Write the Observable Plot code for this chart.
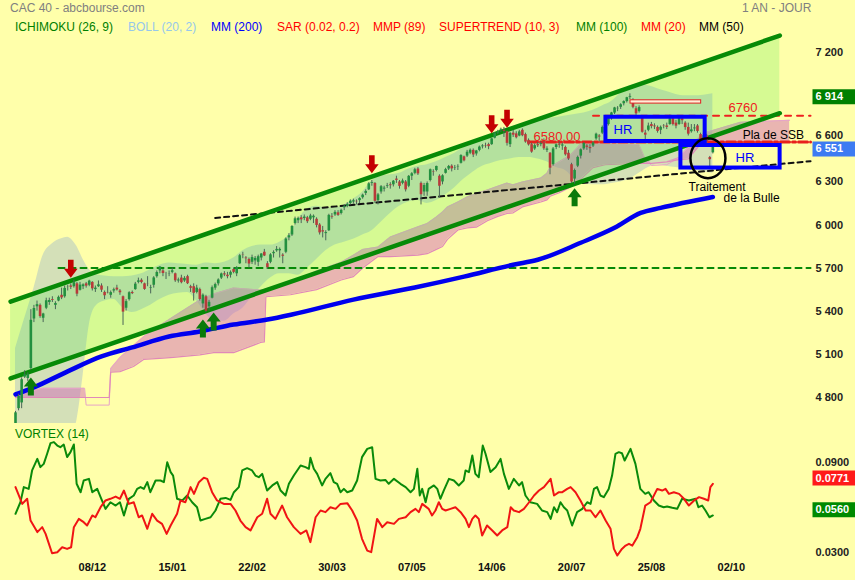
<!DOCTYPE html>
<html><head><meta charset="utf-8">
<script src="https://cdn.jsdelivr.net/npm/d3@7"></script>
<script src="https://cdn.jsdelivr.net/npm/@observablehq/plot@0.6"></script>
<style>
body{margin:0;background:#ffffaa;}
#wrap{position:relative;width:855px;height:580px;background:#ffffaa;overflow:hidden;font-family:"Liberation Sans",Arial,sans-serif;}
#wrap svg{position:absolute;left:0;}
.t{position:absolute;font-size:12px;line-height:14px;white-space:nowrap;}
</style></head><body>
<div id="wrap"></div>
<script>
// ---------- DATA ----------
// daily candles [open, high, low, close], CAC 40, 2 Nov 2020 -> 21 Sep 2021 (index 0..227)
const nov20=[[4606,4701,4590,4691],[4720,4820,4705,4805],[4760,4935,4720,4922],[4940,4985,4930,4956],[4930,4970,4910,4960],[5000,5410,4990,5336],[5345,5440,5320,5418],[5430,5470,5400,5445],[5440,5450,5350,5362],[5350,5385,5320,5380],[5420,5490,5410,5472],[5460,5490,5440,5474],[5480,5500,5460,5474],[5440,5465,5410,5453],[5470,5505,5465,5496],[5510,5560,5480,5492],[5500,5575,5490,5558],[5570,5580,5540,5571],[5575,5590,5550,5566],[5570,5615,5560,5598],[5590,5600,5500,5518]];
const dec20=[[5545,5600,5540,5581],[5570,5590,5550,5583],[5590,5600,5560,5574],[5580,5615,5570,5609],[5600,5605,5540,5555],[5550,5575,5530,5560],[5570,5610,5565,5583],[5575,5590,5530,5546],[5530,5540,5480,5507],[5530,5570,5520,5528],[5510,5540,5490,5529],[5540,5560,5525,5549],[5560,5580,5540,5547],[5540,5550,5510,5528],[5500,5505,5300,5393],[5420,5480,5400,5466],[5480,5535,5470,5528],[5530,5540,5515,5522],[5550,5600,5545,5588],[5600,5630,5590,5611],[5615,5625,5590,5599],[5590,5595,5545,5551]];
const jan21=[[5590,5640,5570,5589],[5560,5580,5520,5564],[5580,5640,5560,5631],[5640,5680,5630,5669],[5680,5710,5660,5707],[5680,5690,5640,5662],[5650,5670,5620,5650],[5660,5680,5640,5662],[5670,5700,5660,5681],[5660,5665,5600,5611],[5610,5630,5595,5617],[5630,5650,5590,5598],[5610,5640,5600,5628],[5640,5650,5585,5591],[5570,5580,5530,5559],[5570,5590,5470,5524],[5530,5580,5520,5560],[5550,5560,5470,5481],[5450,5520,5420,5511],[5500,5510,5390,5399]];
const feb21=[[5430,5475,5400,5461],[5490,5575,5485,5563],[5560,5595,5545,5585],[5590,5625,5575,5617],[5630,5665,5620,5659],[5660,5675,5640,5652],[5650,5670,5625,5640],[5650,5680,5630,5670],[5690,5700,5660,5670],[5660,5710,5640,5704],[5730,5795,5725,5786],[5790,5810,5765,5788],[5770,5780,5730,5765],[5760,5770,5700,5728],[5740,5790,5725,5773],[5750,5780,5720,5767],[5740,5790,5710,5779],[5770,5800,5750,5798],[5810,5830,5780,5784],[5730,5745,5690,5703]];
const mar21=[[5740,5800,5730,5792],[5800,5820,5770,5809],[5820,5850,5810,5830],[5820,5840,5770,5830],[5790,5800,5730,5782],[5810,5910,5800,5902],[5910,5940,5890,5925],[5930,5995,5920,5990],[6010,6055,6000,6043],[6030,6055,6010,6046],[6050,6065,6010,6036],[6045,6070,6030,6055],[6050,6060,6010,6023],[6040,6075,6030,6063],[6050,6070,6010,6061],[6040,6050,5980,5997],[6000,6010,5930,5945],[5960,5990,5910,5951],[5940,5960,5890,5947],[5960,6075,5955,6067],[6060,6080,6040,6055],[6070,6100,6060,6088],[6085,6100,6060,6067]];
const apr21=[[6080,6110,6070,6102],[6120,6140,6100,6130],[6130,6155,6120,6144],[6150,6175,6140,6166],[6160,6180,6145,6169],[6165,6175,6140,6162],[6170,6190,6150,6184],[6190,6215,6180,6208],[6220,6245,6205,6234],[6245,6295,6240,6287],[6290,6310,6270,6296],[6290,6295,6150,6165],[6170,6220,6140,6210],[6230,6275,6215,6267],[6250,6270,6230,6257],[6270,6290,6255,6275],[6280,6295,6250,6274],[6280,6310,6265,6305],[6320,6340,6290,6311],[6300,6310,6250,6269]];
const may21=[[6290,6320,6280,6307],[6300,6310,6230,6245],[6270,6345,6260,6339],[6340,6365,6310,6357],[6360,6395,6350,6385],[6390,6400,6345,6356],[6290,6300,6140,6211],[6230,6290,6200,6275],[6230,6300,6200,6289],[6310,6390,6300,6385],[6370,6385,6340,6367],[6380,6410,6370,6408],[6340,6350,6190,6270],[6300,6350,6280,6343],[6360,6395,6355,6386],[6390,6415,6380,6408],[6410,6420,6370,6391],[6395,6415,6380,6398],[6405,6420,6380,6408],[6430,6490,6425,6484],[6475,6480,6440,6447]];
const jun21=[[6480,6520,6470,6507],[6500,6530,6490,6521],[6520,6530,6470,6488],[6495,6520,6480,6516],[6520,6550,6510,6543],[6545,6560,6530,6551],[6550,6570,6535,6547],[6560,6570,6525,6546],[6560,6605,6555,6600],[6605,6645,6600,6639],[6640,6660,6630,6652],[6660,6675,6645,6667],[6660,6680,6610,6653],[6650,6655,6550,6569],[6560,6645,6540,6638],[6640,6660,6610,6626],[6635,6650,6600,6608],[6620,6660,6615,6649],[6660,6670,6615,6622],[6630,6640,6570,6578],[6590,6600,6550,6558],[6560,6570,6500,6508]];
const jul21=[[6530,6565,6520,6553],[6560,6575,6540,6552],[6560,6580,6545,6567],[6580,6600,6520,6531],[6520,6545,6505,6530],[6500,6505,6350,6396],[6420,6540,6410,6530],[6540,6565,6525,6559],[6560,6580,6535,6555],[6550,6570,6520,6558],[6540,6550,6480,6489],[6500,6520,6450,6460],[6420,6430,6290,6300],[6320,6390,6285,6380],[6410,6480,6400,6471],[6480,6530,6460,6524],[6530,6575,6520,6568],[6550,6560,6520,6541],[6540,6560,6500,6532],[6550,6580,6540,6572],[6600,6640,6590,6633],[6620,6630,6580,6613]];
const aug21=[[6640,6690,6630,6680],[6670,6700,6650,6689],[6700,6750,6690,6742],[6740,6785,6730,6781],[6780,6820,6770,6816],[6810,6825,6790,6813],[6820,6845,6805,6838],[6845,6865,6830,6860],[6860,6890,6850,6887],[6890,6914,6875,6896],[6870,6880,6810,6820],[6810,6825,6760,6775],[6790,6830,6780,6818],[6750,6760,6640,6646],[6640,6660,6580,6626],[6660,6710,6650,6690],[6700,6715,6670,6686],[6690,6705,6665,6684],[6680,6690,6640,6652],[6660,6690,6630,6681],[6690,6700,6670,6688],[6690,6710,6665,6680]];
const sep21=[[6700,6765,6695,6740],[6740,6750,6690,6700],[6710,6730,6670,6689],[6700,6750,6695,6743],[6740,6760,6700,6727],[6710,6720,6660,6679],[6680,6710,6620,6633],[6650,6700,6640,6663],[6670,6700,6650,6676],[6690,6700,6640,6652],[6630,6640,6575,6584],[6590,6635,6580,6623],[6620,6630,6560,6570],[6470,6478,6400,6455],[6503,6560,6495,6551]];

// Bollinger (20,2): [index, upper, lower]
const bollinger=[[0,5140,4520],[3,5350,4530],[6,5560,4540],[9,5790,4550],[12,5870,4550],[15,5905,4555],[17,5914,4560],[19,5880,4570],[20,5850,4640],[22,5760,4950],[24,5690,5300],[26,5655,5430],[29,5645,5470],[32,5640,5480],[35,5640,5420],[38,5645,5390],[41,5660,5410],[44,5690,5440],[47,5720,5480],[50,5735,5510],[53,5730,5525],[56,5725,5530],[59,5720,5470],[62,5735,5380],[65,5730,5330],[68,5740,5330],[71,5770,5380],[74,5820,5420],[77,5850,5500],[80,5860,5570],[83,5860,5630],[86,5880,5660],[89,5930,5660],[92,6040,5650],[95,6110,5700],[98,6130,5760],[101,6120,5820],[104,6120,5860],[107,6140,5880],[110,6180,5900],[113,6230,5930],[116,6310,5960],[119,6340,6020],[122,6350,6080],[125,6360,6130],[128,6390,6160],[131,6410,6170],[134,6420,6150],[137,6440,6170],[140,6470,6210],[143,6500,6260],[146,6540,6320],[149,6570,6370],[152,6600,6410],[155,6630,6430],[158,6660,6450],[161,6680,6460],[164,6700,6470],[167,6720,6470],[170,6740,6460],[173,6745,6440],[176,6750,6400],[179,6760,6380],[182,6770,6320],[185,6780,6290],[188,6800,6280],[191,6830,6280],[194,6860,6290],[197,6920,6300],[200,6970,6320],[203,6980,6360],[206,6970,6400],[209,6950,6420],[212,6930,6410],[215,6910,6400],[218,6900,6390],[221,6900,6380],[224,6905,6370],[227,6914,6360]];

// Ichimoku cloud (shifted 26): [index, SSA, SSB]
const kumo=[[0,4815,4798],[9,4862,4798],[22.5,4862,4798],[23,4745,4798],[30.5,4745,4798],[31,5000,4975],[34,5076,4978],[38.4,5160,5014],[41.7,5222,5063],[47,5300,5070],[51.4,5360,5077],[60,5478,5095],[64.5,5520,5111],[71,5561,5111],[79.8,5547,5181],[81,5550,5185],[81.5,5555,5500],[89.5,5597,5514],[98,5680,5550],[106,5740,5617],[110,5790,5640],[113,5830,5700],[118,5846,5780],[122,5916,5780],[131,5987,5790],[134,6010,5800],[137,6056,5830],[139,6090,5850],[140.6,6126,5900],[144,6160,5965],[147,6195,5980],[150,6220,5985],[153.6,6244,6030],[157,6270,6060],[160,6292,6080],[162,6280,6085],[165,6300,6126],[171,6327,6160],[173,6360,6175],[174,6403,6200],[177,6440,6225],[180.7,6487,6265],[184,6565,6320],[188,6570,6400],[192,6568,6420],[198,6565,6425],[203,6560,6430],[205,6460,6430],[207,6415,6430],[212,6420,6440],[216,6470,6455],[219,6540,6460],[222,6600,6540],[224,6640,6571],[236,6716,6575],[252,6730,6575]];

// MM 200: [index, value]
const mm200=[[0,4820],[6,4869],[17,4980],[28,5084],[38,5147],[50,5223],[60,5258],[71,5306],[82,5341],[90,5376],[110,5480],[130,5564],[146,5640],[162,5723],[170,5758],[184,5876],[195,5980],[203.5,6084],[210,6119],[227,6195]];

// trend channel and levels: [index, value]
const channelIdx=[-1.6,248.8], channelTop=[5466,7320], channelBottom=[4931,6779];
const level5700=[[14,5700],[258.8,5700]];
const supportLine=[[65,6049],[258.8,6445]];
const level6760=[[188,6762],[258.8,6762]];
const level6580=[[167,6578],[258.8,6578]];

// signals [index, arrow tip value]
const sellSignals=[[18,5633],[116,6361],[155,6639],[160,6677]];
const buySignals=[[5,4937],[61,5341],[64.5,5390],[182,6256]];

// annotations
const hrBoxes=[{x1:192.2,x2:224.5,y1:6582,y2:6751},{x1:216.6,x2:248.9,y1:6397,y2:6554}];
const gapBox=[{x1:200.2,x2:223.2,y1:6846,y2:6869}];
const bubble=[[225.4,6466]];
const redNotes=[{i:168.6,v:6612,t:"6580.00"},{i:232.1,v:6820,t:"6760"}];
const blueNotes=[{i:194.7,v:6660,t:"HR"},{i:234.4,v:6466,t:"HR"}];
const blackNotes=[{i:236.7,v:6626,t:"Pla de SSB"},{i:219.1,v:6265,t:"Traitement"},{i:230.5,v:6188,t:"de la Bulle"}];

// Vortex (14): [index, value]
const viPlus=[[0,.0556],[1.6,.0633],[2.7,.0734],[4.3,.0722],[5.4,.0845],[7.1,.0922],[8.1,.0867],[9.2,.0889],[10.3,.0956],[11.4,.1027],[12.5,.1034],[13.6,.1011],[14.6,.1000],[15.7,.1018],[16.8,.0934],[17.9,.0967],[19.0,.1018],[19.9,.0756],[21.2,.0700],[22.2,.0778],[23.9,.0789],[25.0,.0700],[26.6,.0722],[27.7,.0667],[29.3,.0589],[30.9,.0633],[32.6,.0611],[34.0,.0633],[35.3,.0545],[36.9,.0656],[38.5,.0678],[39.6,.0722],[40.7,.0734],[41.8,.0722],[42.9,.0767],[43.9,.0700],[45.6,.0778],[47.2,.0778],[48.3,.0767],[49.4,.0900],[50.5,.0834],[51.3,.0811],[52.6,.0656],[54.3,.0645],[55.9,.0678],[57.5,.0633],[59.1,.0600],[60.2,.0511],[61.8,.0522],[63.5,.0533],[65.1,.0578],[66.7,.0656],[68.4,.0662],[70.0,.0649],[71.1,.0700],[72.7,.0734],[73.8,.0845],[75.4,.0860],[77.0,.0845],[78.1,.0811],[79.2,.0800],[80.3,.0822],[81.9,.0711],[83.6,.0745],[85.2,.0767],[86.3,.0711],[87.9,.0678],[89.0,.0756],[90.6,.0811],[92.8,.0878],[94.4,.0867],[95.5,.0856],[96.0,.0929],[97.1,.0856],[98.2,.0822],[99.8,.0745],[100.9,.0789],[102.5,.0827],[103.6,.0767],[104.7,.0756],[105.8,.0700],[106.9,.0722],[108.0,.0700],[109.6,.0711],[111.2,.0778],[112.8,.0934],[114.5,.0989],[116.1,.1000],[117.2,.0789],[118.8,.0778],[120.4,.0782],[121.5,.0756],[123.2,.0789],[125.3,.0756],[127.0,.0734],[128.6,.0700],[129.7,.0722],[130.8,.0856],[131.6,.0678],[132.4,.0722],[133.5,.0633],[134.5,.0722],[136.2,.0745],[137.3,.0722],[138.3,.0656],[139.4,.0711],[141.1,.0789],[142.7,.0778],[144.3,.0745],[145.9,.0778],[146.5,.0845],[147.6,.0834],[148.7,.0945],[149.7,.0822],[150.8,.0800],[152.1,.1011],[153.0,.0956],[154.6,.0834],[156.3,.0867],[157.9,.0922],[159.0,.0822],[160.6,.0722],[162.2,.0789],[163.9,.0745],[164.9,.0767],[166.0,.0678],[167.6,.0633],[169.8,.0622],[171.4,.0578],[173.1,.0567],[174.2,.0522],[175.3,.0600],[176.3,.0567],[177.4,.0633],[178.5,.0600],[179.6,.0578],[181.2,.0478],[182.8,.0567],[184.5,.0589],[186.1,.0633],[187.2,.0622],[188.3,.0722],[189.3,.0734],[190.4,.0678],[191.5,.0667],[193.1,.0722],[194.2,.0811],[195.3,.0956],[196.4,.0967],[197.4,.0960],[198.3,.0911],[200.2,.0989],[201.8,.0889],[203.4,.0722],[205.0,.0689],[206.1,.0700],[207.8,.0645],[209.4,.0611],[211.0,.0600],[212.1,.0605],[213.8,.0596],[215.4,.0589],[217.0,.0656],[219.2,.0645],[221.4,.0656],[222.3,.0600],[223.5,.0611],[224.6,.0578],[225.9,.0533],[227.0,.0545]];
const viMinus=[[0,.0734],[2.2,.0622],[3.8,.0656],[4.9,.0511],[7.1,.0434],[8.7,.0467],[9.8,.0422],[11.9,.0293],[13.6,.0300],[15.2,.0333],[16.8,.0322],[18.1,.0333],[19.0,.0467],[20.6,.0522],[22.2,.0500],[23.3,.0478],[25.0,.0545],[26.0,.0533],[27.7,.0600],[29.3,.0645],[30.9,.0656],[32.6,.0671],[34.0,.0656],[35.3,.0711],[36.9,.0622],[38.5,.0633],[40.1,.0533],[41.2,.0545],[42.9,.0456],[44.5,.0556],[46.1,.0511],[47.7,.0489],[49.2,.0422],[50.5,.0478],[52.6,.0556],[53.7,.0645],[55.3,.0633],[57.0,.0734],[58.1,.0689],[59.7,.0767],[61.3,.0796],[62.4,.0789],[64.0,.0700],[65.6,.0645],[67.8,.0622],[70.0,.0622],[71.6,.0578],[73.2,.0511],[74.9,.0467],[76.5,.0445],[78.7,.0533],[80.3,.0556],[81.9,.0656],[83.0,.0556],[84.6,.0522],[86.8,.0611],[88.4,.0533],[90.6,.0467],[92.8,.0422],[94.7,.0445],[96.0,.0367],[97.7,.0533],[99.3,.0578],[100.9,.0567],[102.5,.0600],[104.2,.0589],[105.8,.0622],[108.0,.0627],[109.6,.0578],[111.2,.0511],[112.8,.0389],[114.5,.0311],[115.8,.0300],[117.7,.0522],[119.4,.0467],[121.0,.0500],[123.2,.0489],[124.8,.0522],[127.0,.0533],[128.6,.0567],[130.2,.0589],[131.3,.0567],[132.4,.0622],[134.5,.0589],[135.6,.0545],[136.7,.0578],[137.8,.0633],[138.9,.0589],[140.0,.0578],[141.6,.0589],[143.2,.0600],[144.9,.0567],[146.5,.0522],[147.6,.0467],[148.7,.0522],[149.7,.0545],[150.8,.0522],[151.9,.0411],[153.5,.0478],[155.2,.0445],[156.8,.0411],[158.4,.0445],[160.1,.0467],[161.2,.0600],[162.2,.0578],[163.9,.0567],[165.5,.0589],[167.2,.0633],[168.8,.0678],[170.4,.0711],[172.0,.0734],[174.2,.0789],[175.3,.0678],[176.9,.0700],[178.0,.0700],[179.6,.0722],[180.7,.0734],[182.3,.0700],[183.9,.0645],[185.6,.0578],[187.2,.0578],[188.8,.0533],[190.4,.0578],[192.1,.0511],[193.7,.0456],[194.8,.0322],[195.9,.0278],[197.4,.0322],[198.6,.0344],[199.7,.0356],[200.8,.0344],[202.4,.0400],[203.4,.0456],[205.0,.0611],[206.7,.0633],[208.9,.0722],[210.5,.0711],[211.6,.0722],[212.7,.0689],[214.3,.0700],[216.0,.0689],[217.6,.0656],[219.2,.0611],[220.9,.0645],[222.5,.0667],[224.1,.0656],[225.5,.0645],[226.2,.0734],[227.0,.0756]];

// axes
const dateTicks=[26,52,78,104,130,156,182,208,234];
const dateLabels=["08/12","15/01","22/02","30/03","07/05","14/06","20/07","25/08","02/10"];
const priceTicks=[7200,6300,6000,5700,5400,5100,4800];
const priceTickNearLast=[6600];
const vortexTicks=[0.09,0.03];
const lastHigh=[6914], lastPrice=[6551];
const lastViMinus=[0.0771], lastViPlus=[0.0560];

// ---------- BUILD ----------
const candles=[...nov20,...dec20,...jan21,...feb21,...mar21,...apr21,...may21,...jun21,...jul21,...aug21,...sep21]
  .map((d,i)=>({i,o:d[0],h:d[1],l:d[2],c:d[3]}));
const channel=channelIdx.map((i,k)=>({i,lo:channelBottom[k],hi:channelTop[k]}));
const fmt=v=>String(v).replace(/\B(?=(\d{3})+(?!\d))/g," ");
const FONT='"Liberation Sans", Arial, sans-serif';
const X={domain:[0,234],range:[15,15+234*3.072]};

const arrowDown={draw(c){c.moveTo(-2.8,-9);c.lineTo(2.8,-9);c.lineTo(2.8,0);c.lineTo(6.8,0);c.lineTo(0,9);c.lineTo(-6.8,0);c.lineTo(-2.8,0);c.closePath();}};
const arrowUp={draw(c){c.moveTo(-3,9);c.lineTo(3,9);c.lineTo(3,0);c.lineTo(7,0);c.lineTo(0,-9);c.lineTo(-7,0);c.lineTo(-3,0);c.closePath();}};
const boxSym={draw(c){c.moveTo(-21.5,-7.5);c.lineTo(21.5,-7.5);c.lineTo(21.5,7.5);c.lineTo(-21.5,7.5);c.closePath();}};
const ellipseSym={draw(c){const rx=17.5,ry=20,k=0.5523;c.moveTo(rx,0);c.bezierCurveTo(rx,ry*k,rx*k,ry,0,ry);c.bezierCurveTo(-rx*k,ry,-rx,ry*k,-rx,0);c.bezierCurveTo(-rx,-ry*k,-rx*k,-ry,0,-ry);c.bezierCurveTo(rx*k,-ry,rx,-ry*k,rx,0);c.closePath();}};

const GREEN="#078a07", UP="#23903f", DOWN="#b83a3a";
const px=d=>d[0], py=d=>d[1];
const lbl={frameAnchor:"right",dx:3,textAnchor:"start",fontWeight:"bold",fontSize:11};

const main=Plot.plot({
  width:855,height:430,marginLeft:10,marginRight:43,marginTop:18,marginBottom:7,
  style:{background:"transparent",fontFamily:FONT,overflow:"visible"},
  x:{...X,axis:null},
  y:{domain:[4800,7200],range:[396.7,52.3],axis:null},
  marks:[
    Plot.areaY(bollinger,{x:px,y1:d=>d[2],y2:d=>d[1],fill:"#98b6cd",fillOpacity:0.42,curve:"monotone-x",clip:true}),
    Plot.areaY(kumo,{x:px,y1:d=>d[2],y2:d=>Math.max(d[1],d[2]),fill:"#d165ba",fillOpacity:0.48,clip:true}),
    Plot.line(kumo,{x:px,y:d=>d[1],stroke:"#e6a4c8",strokeWidth:1}),
    Plot.line(kumo,{x:px,y:d=>d[2],stroke:"#e08ab8",strokeWidth:1.2}),
    Plot.areaY(channel,{x:"i",y1:"lo",y2:"hi",fill:"#3ce63c",fillOpacity:0.21}),
    Plot.line(level5700,{x:px,y:py,stroke:GREEN,strokeWidth:2,strokeDasharray:"6,5"}),
    Plot.line(supportLine,{x:px,y:py,stroke:"#111",strokeWidth:2,strokeDasharray:"5,4"}),
    Plot.line(level6760,{x:px,y:py,stroke:"#ee2020",strokeWidth:2,strokeDasharray:"6,6"}),
    Plot.line(level6580,{x:px,y:py,stroke:"#e8201c",strokeWidth:3,strokeDasharray:"9,3,3,3"}),
    Plot.line(channel,{x:"i",y:"hi",stroke:GREEN,strokeWidth:4.5}),
    Plot.line(channel,{x:"i",y:"lo",stroke:GREEN,strokeWidth:4.5}),
    Plot.line(mm200,{x:px,y:py,stroke:"#0000ee",strokeWidth:4.5,curve:"monotone-x"}),
    Plot.ruleX(candles,{x:"i",y1:"l",y2:"h",stroke:"#4a6558",strokeWidth:1,clip:true}),
    Plot.ruleX(candles.filter(d=>d.c>=d.o),{x:"i",y1:"o",y2:"c",stroke:UP,strokeWidth:2.6,clip:true}),
    Plot.ruleX(candles.filter(d=>d.c<d.o),{x:"i",y1:"o",y2:"c",stroke:DOWN,strokeWidth:2.6,clip:true}),
    Plot.dot(sellSignals,{x:px,y:py,symbol:arrowDown,fill:"#c40000",dy:-9}),
    Plot.dot(buySignals,{x:px,y:py,symbol:arrowUp,fill:"#0a7a0a",dy:9}),
    Plot.rect(gapBox,{x1:"x1",x2:"x2",y1:"y1",y2:"y2",fill:"#fff0d8",stroke:"#e02020",strokeWidth:1}),
    Plot.rect(hrBoxes,{x1:"x1",x2:"x2",y1:"y1",y2:"y2",fill:"none",stroke:"#0000ff",strokeWidth:4}),
    Plot.dot(bubble,{x:px,y:py,symbol:ellipseSym,fill:"none",stroke:"#000",strokeWidth:2.5}),
    Plot.text(redNotes,{x:"i",y:"v",text:"t",textAnchor:"start",fill:"#ee2222",fontSize:13}),
    Plot.text(blueNotes,{x:"i",y:"v",text:"t",textAnchor:"start",fill:"#0000ff",fontSize:13}),
    Plot.text(blackNotes,{x:"i",y:"v",text:"t",textAnchor:"start",fill:"#000",fontSize:12}),
    Plot.text(priceTicks,{y:d=>d,text:fmt,...lbl,fill:"#222"}),
    Plot.text(priceTickNearLast,{y:d=>d,text:fmt,...lbl,dy:-3,fill:"#222"}),
    Plot.dot(lastHigh,{y:d=>d,frameAnchor:"right",dx:21.5,dy:2.8,symbol:boxSym,fill:"#008000"}),
    Plot.text(lastHigh,{y:d=>d,text:fmt,...lbl,dy:2.8,fill:"#fff"}),
    Plot.dot(lastPrice,{y:d=>d,frameAnchor:"right",dx:21.5,dy:3,symbol:boxSym,fill:"#3d7bf2"}),
    Plot.text(lastPrice,{y:d=>d,text:fmt,...lbl,dy:3,fill:"#fff"})
  ]
});
main.style.top="0px";

const vort=Plot.plot({
  width:855,height:150,marginLeft:10,marginRight:43,marginTop:0,marginBottom:0,
  style:{background:"transparent",fontFamily:FONT,overflow:"visible"},
  x:{...X,axis:null},
  y:{domain:[0.03,0.09],range:[121.7,31.7],axis:null},
  marks:[
    Plot.line(viPlus,{x:px,y:py,stroke:"#0a8a0a",strokeWidth:2}),
    Plot.line(viMinus,{x:px,y:py,stroke:"#f01414",strokeWidth:2}),
    Plot.text(vortexTicks,{y:d=>d,text:d=>d.toFixed(4),...lbl,fill:"#222"}),
    Plot.dot(lastViMinus,{y:d=>d,frameAnchor:"right",dx:21.5,dy:-3.5,symbol:boxSym,fill:"#ff1a1a"}),
    Plot.text(lastViMinus,{y:d=>d,text:d=>d.toFixed(4),...lbl,dy:-3.5,fill:"#fff"}),
    Plot.dot(lastViPlus,{y:d=>d,frameAnchor:"right",dx:21.5,dy:-3.5,symbol:boxSym,fill:"#008a00"}),
    Plot.text(lastViPlus,{y:d=>d,text:d=>d.toFixed(4),...lbl,dy:-3.5,fill:"#fff"}),
    Plot.text(dateTicks,{x:d=>d,text:(d,i)=>dateLabels[i],frameAnchor:"bottom",dy:-10,dx:-3,fontWeight:"bold",fontSize:11,fill:"#111"})
  ]
});
vort.style.top="430px";

const wrap=document.getElementById("wrap");
wrap.appendChild(main);
wrap.appendChild(vort);

const labels=[
  ["CAC 40 - abcbourse.com",10,1,"#808080"],["1 AN - JOUR",742,1,"#808080"],
  ["ICHIMOKU (26, 9)",15,20,"#008000"],["BOLL (20, 2)",128,20,"#96c8eb"],["MM (200)",211,20,"#0000ff"],
  ["SAR (0.02, 0.2)",277,20,"#ff0000"],["MMP (89)",373,20,"#ff0000"],["SUPERTREND (10, 3)",439,20,"#ff0000"],
  ["MM (100)",576,20,"#008000"],["MM (20)",641,20,"#ff0000"],["MM (50)",699,20,"#000000"],
  ["VORTEX (14)",15,427,"#008000"]
];
for(const [t,l,tp,c] of labels){const s=document.createElement("div");s.className="t";s.textContent=t;s.style.left=l+"px";s.style.top=tp+"px";s.style.color=c;wrap.appendChild(s);}
</script></body></html>
